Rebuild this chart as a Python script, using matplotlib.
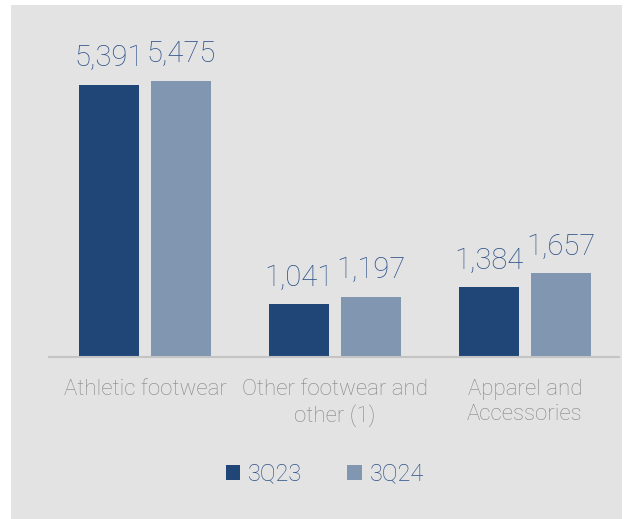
import numpy as np
import matplotlib.pyplot as plt

categories = ['Athletic footwear', 'Other footwear and\nother (1)', 'Apparel and\nAccessories']
series_names = ['3Q23', '3Q24']
values_3q23 = [5391, 1041, 1384]
values_3q24 = [5475, 1197, 1657]

dark_blue = '#1f4677'
light_blue = '#8096b1'
text_blue = '#2b5087'
label_gray = '#858585'
bg = '#e3e3e3'

plt.rcParams['font.family'] = ['Roboto', 'DejaVu Sans']
plt.rcParams['font.weight'] = 'light'

fig = plt.figure(figsize=(6.27, 5.19), dpi=100)
fig.patch.set_facecolor('white')
# gray panel behind everything
fig.patches.append(plt.Rectangle((11 / 627, 0), 611 / 627, 514 / 519,
                                 transform=fig.transFigure, facecolor=bg,
                                 edgecolor='none', zorder=-1))

ax = fig.add_axes([49 / 627, 162 / 519, 570 / 627, 303 / 519])
ax.set_facecolor('none')

x = np.arange(len(categories))
width = 60 / 190
offset = 36 / 190
bars1 = ax.bar(x - offset, values_3q23, width, color=dark_blue, label=series_names[0])
bars2 = ax.bar(x + offset, values_3q24, width, color=light_blue, label=series_names[1])

for bars in (bars1, bars2):
    for b in bars:
        ax.annotate(f'{int(b.get_height()):,}', (b.get_x() + b.get_width() / 2, b.get_height()),
                    xytext=(0, 9), textcoords='offset points', ha='center', va='bottom',
                    fontsize=21, color=text_blue, fontweight='light')

ax.set_xlim(-0.505, 2.495)
ax.set_ylim(0, 6000)
ax.set_yticks([])
ax.set_xticks(x)
ax.set_xticklabels(categories, fontsize=16, color=label_gray, fontweight='light',
                   linespacing=1.25, va='top')
ax.tick_params(axis='x', length=0, pad=16)
for s in ['top', 'right', 'left']:
    ax.spines[s].set_visible(False)
ax.spines['bottom'].set_color('#c4c4c4')
ax.spines['bottom'].set_linewidth(1.5)

leg = fig.legend(loc='center', bbox_to_anchor=(325 / 627, 1 - 474 / 519), ncol=2,
                 frameon=False, fontsize=17, handlelength=0.6, handleheight=0.6,
                 handletextpad=0.34, columnspacing=1.9)
for t in leg.get_texts():
    t.set_color(text_blue)
    t.set_fontweight('light')

fig.savefig('out.png', dpi=100, facecolor=fig.get_facecolor())
